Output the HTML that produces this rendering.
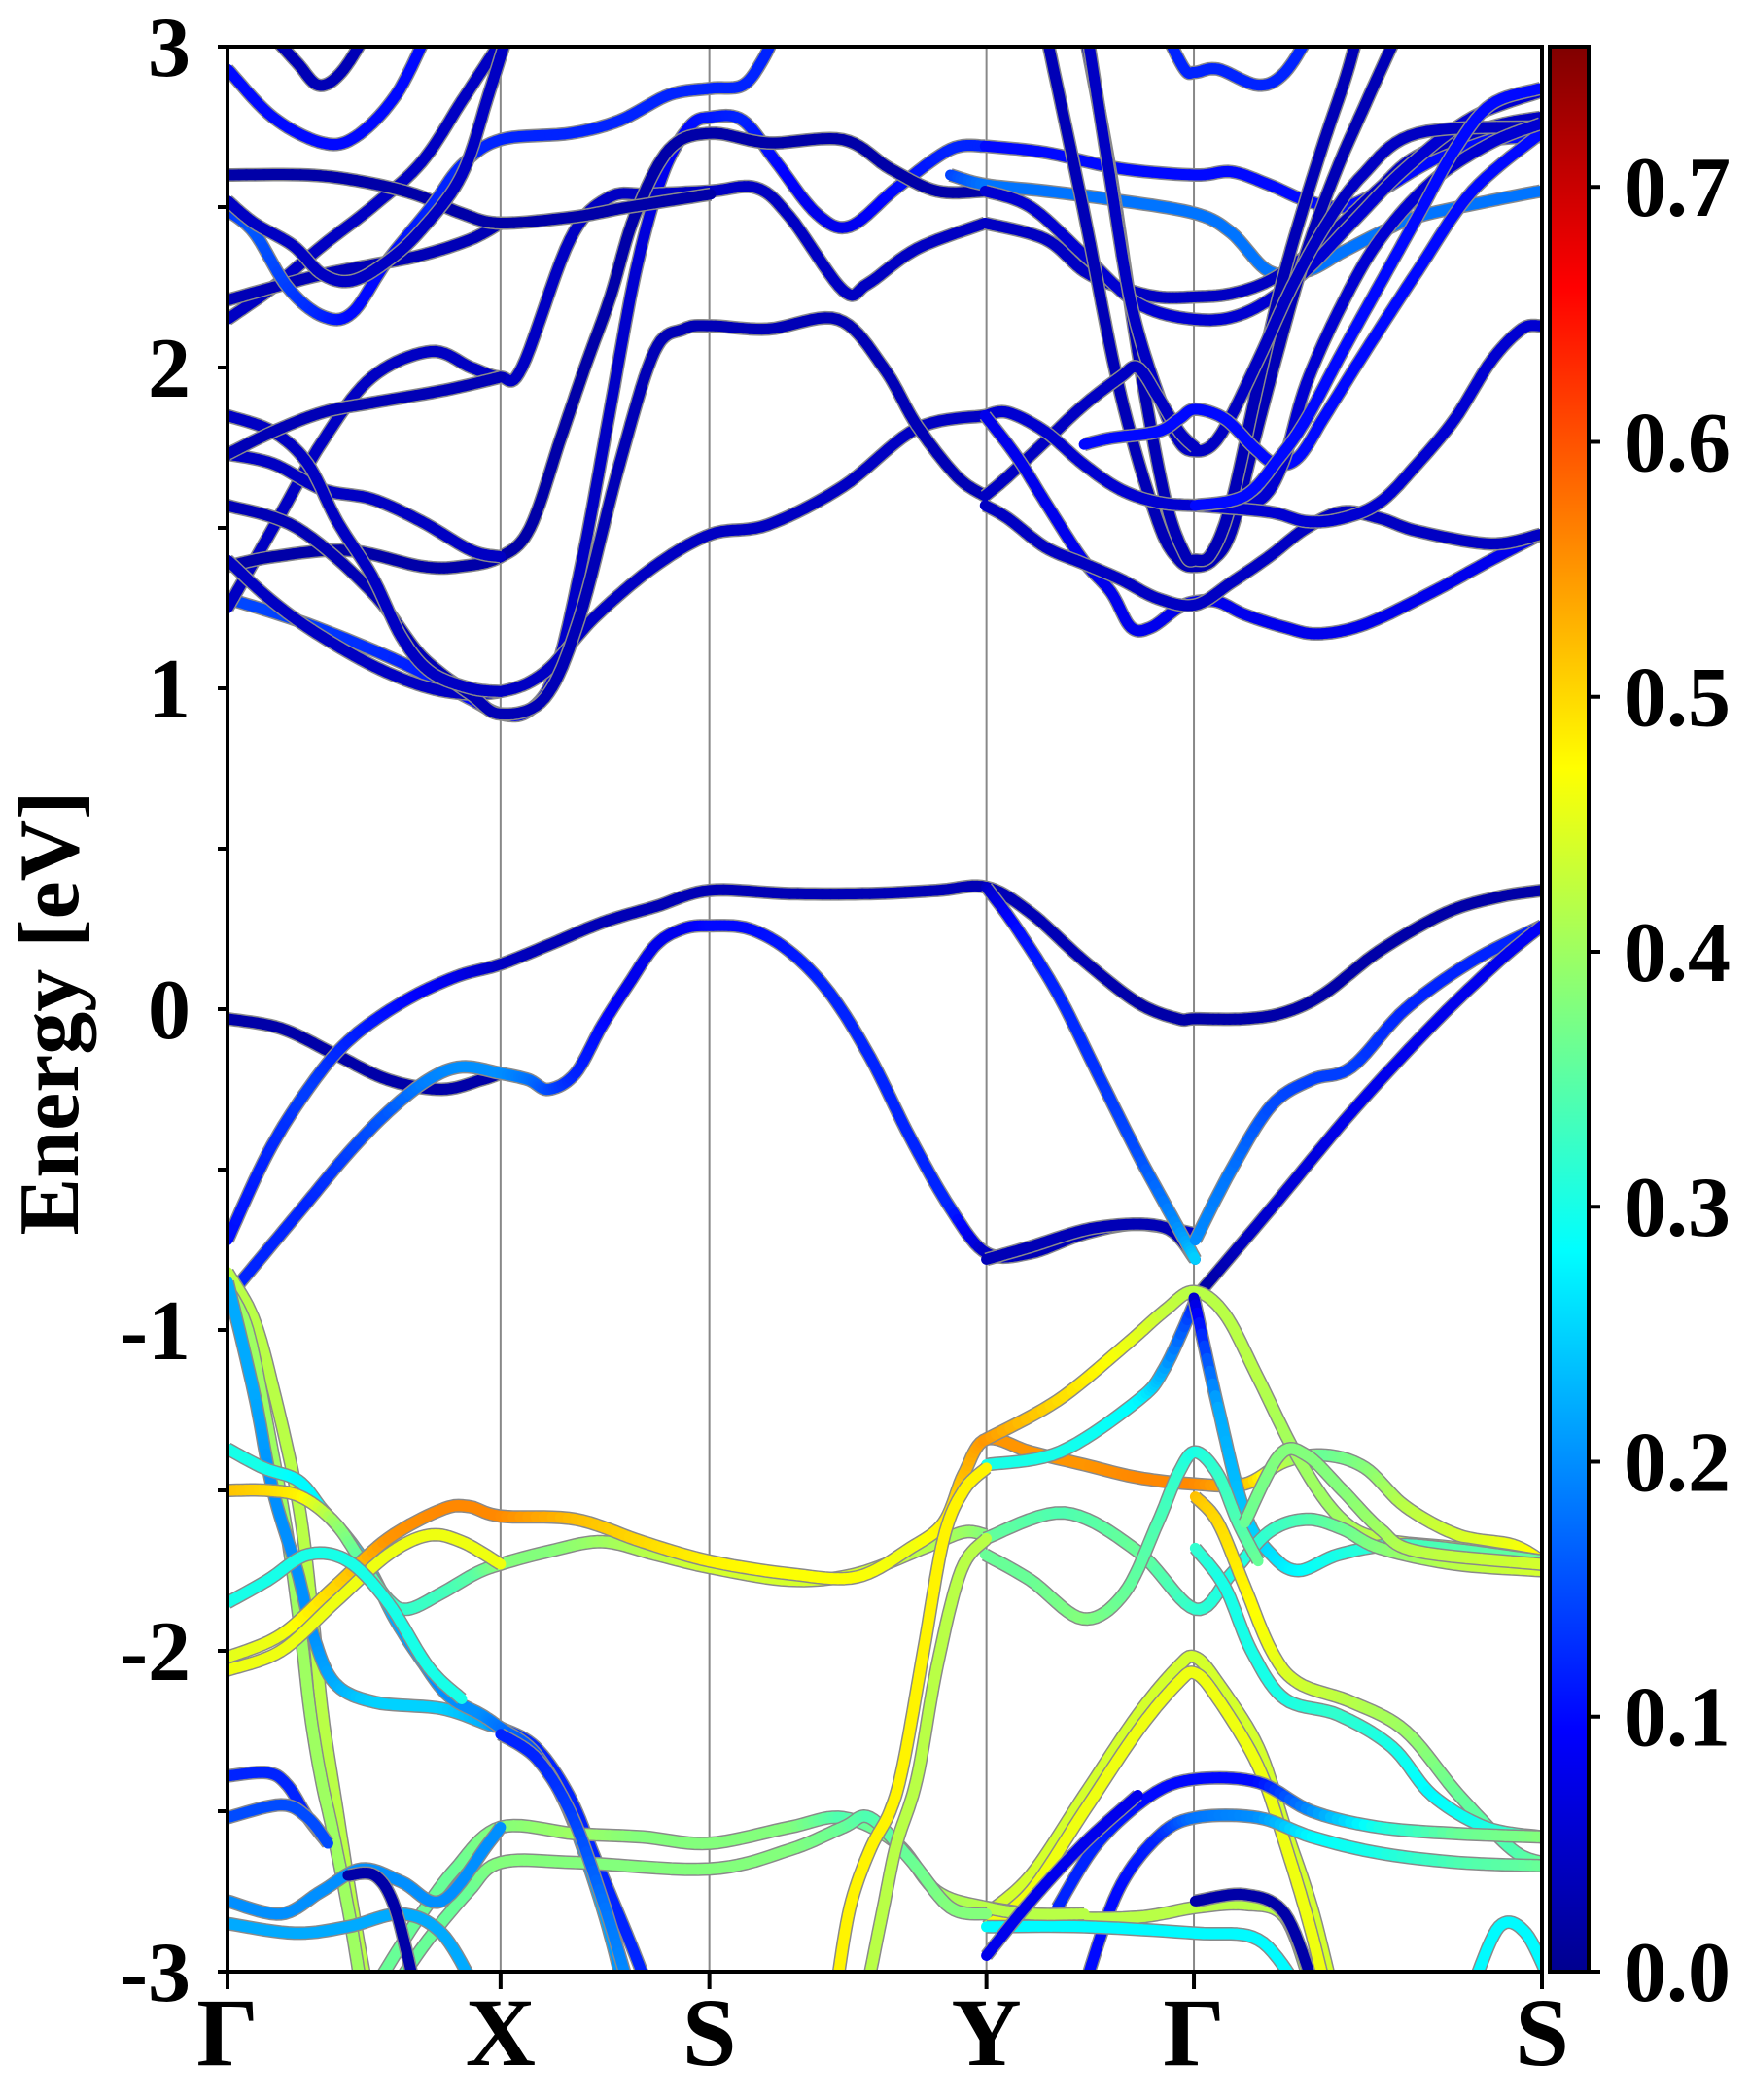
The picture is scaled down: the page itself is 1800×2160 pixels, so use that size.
<!DOCTYPE html>
<html><head><meta charset="utf-8"><style>
html,body{margin:0;padding:0;background:#fff;}
svg{display:block;}
text{font-family:"Liberation Serif","Times New Roman",serif;font-weight:bold;fill:#000;}
</style></head><body>
<svg id="chart" width="1800" height="2160" viewBox="0 0 1800 2160" xmlns="http://www.w3.org/2000/svg" font-family="Liberation Serif, serif">
<defs>
<clipPath id="plotClip"><rect x="234" y="48" width="1352" height="1980"/></clipPath>
<linearGradient id="jetGrad" x1="0" y1="1" x2="0" y2="0">
<stop offset="0" stop-color="#00008f"/><stop offset="0.125" stop-color="#0000ff"/><stop offset="0.375" stop-color="#00ffff"/><stop offset="0.625" stop-color="#ffff00"/><stop offset="0.875" stop-color="#ff0000"/><stop offset="1" stop-color="#800000"/>
</linearGradient>
</defs>
<g id="grid"></g>
<g id="bands" clip-path="url(#plotClip)"></g>
<rect x="234" y="48" width="1352" height="1980" fill="none" stroke="#000" stroke-width="4"/>
<g id="axes"></g>
<text transform="translate(80,1042) rotate(-90)" text-anchor="middle" font-size="88">Energy [eV]</text>
<rect x="1594" y="48" width="40" height="1980" fill="url(#jetGrad)" stroke="#000" stroke-width="4"/>
<g id="cbar"></g>
</svg>
<script>
// ---- data ----
const kNodes = [0, 204, 360, 567, 722, 982];
const kLabels = ["Γ", "X", "S", "Y", "Γ", "S"];
const yTicks = [-3, -2, -1, 0, 1, 2, 3];
const cbarTicks = [0.0, 0.1, 0.2, 0.3, 0.4, 0.5, 0.6, 0.7];
const cMax = 0.755;
// each band: list of [k, E] pairs
const bandData = [
[[0,1.28],[60,1.2],[130,1.08],[180,0.97],[204,0.92],[225,0.93],[245,1.05],[265,1.4],[285,1.85],[305,2.3],[325,2.6],[345,2.75],[361,2.78],[385,2.77],[410,2.64],[440,2.48],[465,2.44],[500,2.56],[540,2.68],[566,2.69]],
[[0,1.25],[34,1.5],[71,1.77],[108,1.97],[152,2.05],[182,2.0],[204,1.97],[220,2.0],[256,2.4],[285,2.53],[315,2.54],[361,2.55],[395,2.56],[420,2.47],[460,2.24],[478,2.26],[515,2.37],[566,2.45]],
[[0,1.38],[34,1.41],[90,1.43],[145,1.38],[175,1.38],[204,1.41],[226,1.5],[249,1.78],[267,2.0],[286,2.22],[304,2.47],[330,2.68],[361,2.73],[404,2.7],[460,2.71],[495,2.62],[530,2.55],[566,2.55]],
[[0,1.4],[34,1.27],[71,1.16],[119,1.05],[163,0.99],[204,0.99],[237,1.05],[274,1.22],[319,1.38],[361,1.48],[404,1.51],[460,1.63],[515,1.81],[566,1.85]],
[[0,1.57],[52,1.5],[108,1.3],[145,1.1],[182,0.98],[204,0.92],[237,0.97],[263,1.22],[293,1.7],[319,2.05],[341,2.12],[361,2.13],[404,2.12],[456,2.15],[490,2.0],[515,1.82],[545,1.66],[566,1.6]],
[[0,1.73],[34,1.7],[71,1.62],[108,1.59],[145,1.52],[182,1.43],[204,1.41]],
[[0,1.85],[34,1.8],[60,1.7],[82,1.52],[108,1.35],[130,1.16],[152,1.05],[182,1.0],[204,0.99]],
[[0,1.73],[34,1.8],[71,1.86],[108,1.89],[163,1.93],[204,1.97]],
[[0,2.15],[34,2.25],[71,2.38],[108,2.5],[145,2.64],[175,2.83],[197,2.97],[210,3.05]],
[[0,2.21],[34,2.25],[71,2.29],[108,2.32],[145,2.35],[182,2.4],[204,2.45]],
[[0,2.6],[60,2.6],[100,2.58],[140,2.54],[175,2.48],[204,2.45],[260,2.47],[300,2.5],[361,2.54]],
[[0,2.49],[20,2.42],[45,2.25],[71,2.16],[93,2.17],[119,2.33],[152,2.5],[175,2.63],[204,2.71],[256,2.73],[293,2.77],[330,2.85],[361,2.87],[385,2.88],[400,2.96],[410,3.05]],
[[0,2.52],[20,2.45],[49,2.38],[71,2.29],[93,2.27],[119,2.33],[145,2.43],[175,2.6],[195,2.85],[210,3.05]],
[[0,2.93],[34,2.78],[71,2.7],[96,2.72],[126,2.85],[150,3.05]],
[[30,3.05],[52,2.95],[68,2.88],[85,2.92],[105,3.05]],
[[566,2.69],[611,2.67],[667,2.62],[723,2.6],[750,2.61],[778,2.57],[806,2.52],[833,2.5],[861,2.55],[889,2.62],[917,2.68],[944,2.71],[981,2.72]],
[[540,2.6],[566,2.57],[611,2.55],[667,2.52],[723,2.48],[750,2.42],[778,2.3],[806,2.3],[833,2.36],[861,2.42],[889,2.47],[944,2.52],[981,2.55]],
[[566,2.45],[611,2.4],[640,2.3],[667,2.25],[695,2.22],[723,2.22],[750,2.23],[778,2.27],[806,2.35],[833,2.45],[861,2.56],[889,2.66],[944,2.75],[981,2.78]],
[[566,2.55],[600,2.5],[640,2.35],[680,2.2],[723,2.15],[760,2.17],[800,2.28],[840,2.45],[880,2.62],[930,2.78],[981,2.86]],
[[611,3.05],[639,2.5],[667,1.92],[695,1.52],[711,1.4],[723,1.38],[736,1.4],[750,1.49],[767,1.77],[786,2.07],[806,2.36],[828,2.61],[850,2.82],[875,3.05]],
[[640,3.05],[660,2.6],[680,2.05],[700,1.6],[715,1.42],[723,1.4],[735,1.42],[750,1.58],[770,1.95],[790,2.3],[815,2.65],[835,2.9],[845,3.05]],
[[642,3.05],[659,2.6],[675,2.2],[695,1.92],[711,1.77],[723,1.74],[736,1.76],[750,1.85],[773,2.05],[795,2.25],[820,2.44],[848,2.6],[889,2.73],[981,2.75]],
[[566,1.6],[583,1.66],[611,1.77],[639,1.88],[667,1.97],[680,2.0],[695,1.91],[711,1.8],[723,1.75]],
[[640,1.76],[660,1.78],[695,1.8],[711,1.84],[723,1.87],[745,1.84],[767,1.75],[783,1.7],[800,1.72],[820,1.85],[850,2.05],[889,2.3],[930,2.55],[981,2.73]],
[[566,1.85],[583,1.86],[611,1.8],[639,1.7],[667,1.62],[695,1.58],[723,1.57],[755,1.57],[775,1.6],[790,1.72],[806,1.95],[833,2.2],[861,2.4],[900,2.58],[944,2.7],[981,2.76]],
[[566,1.85],[590,1.72],[611,1.58],[639,1.4],[660,1.3],[675,1.19],[690,1.19],[710,1.25],[723,1.27],[740,1.27],[760,1.23],[790,1.19],[815,1.17],[850,1.2],[900,1.3],[944,1.4],[981,1.48]],
[[566,1.57],[583,1.53],[611,1.44],[639,1.39],[667,1.34],[695,1.28],[723,1.26],[750,1.33],[778,1.41],[806,1.5],[833,1.55],[861,1.53],[889,1.49],[944,1.45],[981,1.48]],
[[723,1.57],[778,1.55],[806,1.52],[833,1.53],[861,1.58],[889,1.7],[917,1.84],[944,2.02],[967,2.12],[981,2.13]],
[[723,1.57],[760,1.6],[786,1.72],[806,1.84],[833,2.05],[861,2.26],[889,2.47],[917,2.68],[944,2.82],[981,2.87]],
[[700,3.05],[715,2.93],[723,2.92],[740,2.93],[770,2.88],[790,2.92],[810,3.05]],
[[0,-0.03],[40,-0.06],[80,-0.14],[120,-0.22],[160,-0.25],[190,-0.22],[204,-0.2]],
[[0,-0.9],[30,-0.75],[60,-0.6],[90,-0.45],[120,-0.32],[150,-0.22],[175,-0.18],[204,-0.2],[225,-0.22],[240,-0.25],[260,-0.2],[280,-0.05],[300,0.08],[320,0.2],[340,0.25],[360,0.26],[390,0.25],[420,0.18],[450,0.05],[480,-0.15],[510,-0.4],[540,-0.62],[567,-0.76],[600,-0.76],[640,-0.7],[680,-0.67],[723,-0.7]],
[[0,-0.72],[30,-0.45],[60,-0.25],[90,-0.1],[130,0.02],[170,0.1],[204,0.14],[240,0.2],[280,0.27],[320,0.32],[360,0.37],[420,0.36],[480,0.36],[530,0.37],[567,0.38],[600,0.3],[640,0.15],[680,0.02],[710,-0.03],[723,-0.03],[760,-0.03],[790,-0.01],[820,0.05],[860,0.18],[910,0.3],[950,0.35],[982,0.37]],
[[567,-0.78],[600,-0.74],[650,-0.68],[700,-0.68],[723,-0.78]],
[[567,0.38],[590,0.25],[620,0.05],[650,-0.2],[680,-0.45],[710,-0.68],[723,-0.78]],
[[723,-0.72],[750,-0.5],[780,-0.3],[810,-0.22],[840,-0.18],[880,0.0],[930,0.15],[982,0.26]],
[[723,-0.9],[780,-0.62],[840,-0.32],[900,-0.05],[950,0.15],[982,0.26]],
[[0,-0.82],[19,-0.96],[34,-1.18],[53,-1.54],[64,-1.91],[71,-2.2],[82,-2.5],[93,-2.79],[104,-3.05]],
[[0,-0.87],[15,-1.0],[30,-1.3],[45,-1.65],[55,-1.95],[62,-2.2],[70,-2.4],[78,-2.55],[90,-2.8],[100,-3.05]],
[[0,-0.85],[20,-1.2],[34,-1.5],[52,-1.75],[64,-1.95],[80,-2.1],[110,-2.16],[160,-2.18],[195,-2.23],[204,-2.24],[230,-2.3],[255,-2.45],[275,-2.65],[300,-2.9],[314,-3.05]],
[[0,-1.37],[27,-1.43],[53,-1.47],[71,-1.56],[90,-1.65],[108,-1.76],[125,-1.9],[145,-2.03],[165,-2.14],[190,-2.2],[204,-2.24],[230,-2.32],[255,-2.5],[280,-2.8],[296,-3.05]],
[[0,-1.5],[30,-1.5],[55,-1.52],[80,-1.6],[100,-1.72],[120,-1.84],[135,-1.87],[160,-1.82],[185,-1.76],[204,-1.73],[240,-1.69],[280,-1.66],[320,-1.7],[360,-1.74],[420,-1.78],[470,-1.76],[520,-1.68],[550,-1.63],[567,-1.64]],
[[0,-2.02],[40,-1.95],[80,-1.8],[120,-1.65],[160,-1.56],[180,-1.55],[204,-1.58],[260,-1.59],[310,-1.66],[360,-1.72],[420,-1.76],[470,-1.77],[510,-1.68],[535,-1.6],[550,-1.45],[567,-1.34],[600,-1.38],[640,-1.42],[680,-1.46],[722,-1.48],[760,-1.48],[790,-1.41],[820,-1.39],[850,-1.43],[880,-1.55],[920,-1.64],[960,-1.67],[982,-1.72]],
[[0,-2.06],[40,-2.0],[80,-1.85],[120,-1.7],[150,-1.64],[175,-1.66],[204,-1.73]],
[[0,-1.85],[30,-1.78],[60,-1.7],[90,-1.72],[120,-1.85],[150,-2.05],[175,-2.15]],
[[567,-1.34],[620,-1.22],[670,-1.05],[700,-0.94],[722,-0.88],[745,-0.95],[770,-1.15],[800,-1.4],[830,-1.58],[860,-1.65],[920,-1.68],[982,-1.72]],
[[567,-1.42],[622,-1.38],[680,-1.22],[700,-1.12],[722,-0.92]],
[[722,-0.9],[740,-1.24],[760,-1.57],[780,-1.7],[800,-1.75],[830,-1.7],[870,-1.67],[910,-1.68],[982,-1.72]],
[[566,-1.65],[625,-1.57],[680,-1.69],[723,-1.87],[750,-1.76],[778,-1.63],[806,-1.59],[833,-1.62],[861,-1.68],[917,-1.73],[981,-1.75]],
[[566,-1.7],[600,-1.78],[639,-1.9],[670,-1.82],[695,-1.6],[710,-1.45],[723,-1.38],[740,-1.45],[755,-1.6],[770,-1.72]],
[[723,-1.52],[740,-1.6],[760,-1.8],[780,-2.0],[800,-2.1],[840,-2.16],[880,-2.25],[920,-2.45],[960,-2.62],[982,-2.66]],
[[760,-1.6],[786,-1.39],[806,-1.39],[833,-1.5],[861,-1.62],[889,-1.69],[981,-1.73]],
[[723,-1.68],[745,-1.8],[765,-2.0],[790,-2.15],[830,-2.2],[870,-2.3],[900,-2.45],[940,-2.55],[982,-2.58]],
[[567,-2.82],[600,-2.7],[640,-2.45],[680,-2.2],[710,-2.05],[723,-2.02],[740,-2.1],[770,-2.3],[790,-2.55],[810,-2.8],[825,-3.05]],
[[567,-2.86],[600,-2.75],[640,-2.5],[680,-2.25],[710,-2.1],[723,-2.07],[740,-2.15],[770,-2.36],[790,-2.6],[808,-2.85],[820,-3.05]],
[[620,-2.8],[650,-2.6],[690,-2.45],[723,-2.4],[770,-2.41],[810,-2.5],[860,-2.55],[920,-2.57],[982,-2.58]],
[[640,-3.05],[665,-2.75],[695,-2.58],[723,-2.52],[770,-2.52],[810,-2.58],[860,-2.63],[920,-2.66],[982,-2.67]],
[[567,-2.8],[620,-2.83],[680,-2.83],[723,-2.8],[760,-2.79],[790,-2.83],[810,-3.05]],
[[567,-2.86],[640,-2.86],[723,-2.88],[770,-2.9],[800,-3.05]],
[[110,-3.05],[140,-2.85],[170,-2.68],[204,-2.55],[260,-2.57],[310,-2.58],[360,-2.6],[420,-2.55],[460,-2.52],[500,-2.6],[530,-2.75],[567,-2.8],[600,-2.82],[640,-2.82]],
[[125,-3.05],[150,-2.9],[180,-2.75],[204,-2.66],[260,-2.66],[360,-2.68],[420,-2.62],[460,-2.55],[480,-2.52],[510,-2.65],[540,-2.8],[567,-2.82]],
[[567,-1.43],[550,-1.5],[535,-1.65],[520,-2.0],[505,-2.35],[495,-2.5],[480,-2.62],[465,-2.8],[455,-3.05]],
[[567,-1.65],[548,-1.75],[530,-2.05],[515,-2.4],[500,-2.6],[490,-2.8],[478,-3.05]],
[[204,-2.26],[232,-2.34],[258,-2.52],[282,-2.8],[300,-3.05]],
[[0,-2.39],[30,-2.38],[45,-2.42],[60,-2.52],[75,-2.6]],
[[0,-2.52],[40,-2.48],[60,-2.52],[75,-2.6]],
[[0,-2.78],[40,-2.82],[70,-2.75],[100,-2.68],[130,-2.72],[160,-2.78],[195,-2.6],[204,-2.55]],
[[0,-2.85],[50,-2.88],[90,-2.86],[130,-2.82],[160,-2.88],[185,-3.05]],
[[90,-2.7],[110,-2.7],[125,-2.8],[140,-3.05]],
[[567,-2.95],[600,-2.78],[640,-2.6],[680,-2.45]],
[[723,-2.78],[760,-2.76],[790,-2.82],[812,-3.05]],
[[930,-3.05],[950,-2.86],[970,-2.88],[990,-3.05]]
];
// weight values per band (single value or one per point)
const bandW = [
[0.15,0.14,0.12,0.1,0.1,0.08,0.06,0.05,0.05,0.06,0.08,0.1,0.11,0.12,0.1,0.08,0.08,0.1,0.12,0.12],
[0.05],[0.03],[0.05],[0.04],[0.05],[0.05],[0.04],[0.05],[0.04],[0.03],
[0.12,0.16,0.14,0.12,0.1,0.1,0.12,0.12,0.12,0.12,0.12,0.12,0.12,0.12,0.12,0.12],
[0.05],[0.1],[0.04],
[0.1],[0.14,0.18],[0.05],[0.06],[0.04],[0.04],[0.05],[0.05],[0.1],[0.06],[0.08],[0.05],[0.06],[0.1],[0.12],
[0.03],
[0.12,0.12,0.12,0.14,0.16,0.19,0.2,0.2,0.18,0.15,0.12,0.1,0.08,0.08,0.08,0.1,0.1,0.11,0.12,0.12,0.12,0.12,0.05,0.04,0.04,0.04,0.06],
[0.1,0.12,0.14,0.12,0.1,0.08,0.05,0.04,0.04,0.04,0.04,0.04,0.04,0.04,0.04,0.04,0.04,0.03,0.03,0.03,0.03,0.03,0.03,0.03,0.03,0.03,0.03],
[0.04],
[0.05,0.1,0.12,0.13,0.15,0.2,0.25],
[0.2,0.18,0.15,0.14,0.14,0.12,0.12,0.12],
[0.02,0.06,0.08,0.08,0.08,0.09],
[0.42],[0.4],
[0.22,0.22,0.2,0.2,0.2,0.22,0.25,0.25,0.22,0.15,0.12,0.12,0.12,0.12,0.12],
[0.3,0.3,0.28,0.28,0.26,0.25,0.22,0.2,0.2,0.2,0.18,0.15,0.2,0.22,0.2],
[0.52,0.5,0.48,0.4,0.35,0.33,0.32,0.33,0.35,0.38,0.38,0.4,0.42,0.44,0.44,0.44,0.42,0.4,0.38],
[0.45,0.46,0.5,0.55,0.56,0.56,0.56,0.52,0.5,0.48,0.47,0.47,0.46,0.48,0.52,0.55,0.55,0.55,0.56,0.56,0.52,0.42,0.36,0.38,0.42,0.44,0.46,0.48],
[0.46],[0.3],
[0.55,0.5,0.46,0.43,0.42,0.42,0.42,0.4,0.4,0.42,0.44,0.46],
[0.3,0.3,0.28,0.22,0.12],
[0.05,0.22,0.24,0.26,0.28,0.3,0.32,0.34,0.36],
[0.36,0.34,0.36,0.32,0.3,0.32,0.34,0.36,0.38,0.42,0.44],
[0.36,0.36,0.38,0.36,0.34,0.32,0.3,0.32,0.34,0.36],
[0.52,0.5,0.48,0.46,0.44,0.42,0.4,0.36,0.34,0.36],
[0.36,0.38,0.38,0.38,0.4,0.42,0.44],
[0.32,0.3,0.3,0.3,0.32,0.3,0.28,0.3,0.36],
[0.44],[0.46],
[0.12,0.12,0.1,0.1,0.1,0.2,0.3,0.36,0.38],
[0.1,0.1,0.12,0.18,0.2,0.28,0.3,0.34,0.36],
[0.42],[0.28],
[0.36,0.36,0.36,0.38,0.4,0.38,0.38,0.38,0.34,0.38,0.4,0.42,0.42,0.42],
[0.36,0.36,0.36,0.38,0.38,0.38,0.38,0.36,0.34,0.36,0.38,0.38],
[0.48],[0.42],
[0.12,0.12,0.14,0.18,0.2],
[0.12],[0.15],[0.2],[0.22],[0.03],[0.08],[0.03],[0.28]
];

// ---- scales ----
const X0 = 234, X1 = 1586, Y0 = 48, Y1 = 2028;
const kMax = kNodes[kNodes.length - 1];
function xs(k) { return X0 + (k / kMax) * (X1 - X0); }
function ys(e) { return Y0 + (3 - e) / 6 * (Y1 - Y0); }
function clamp(v) { return Math.max(0, Math.min(1, v)); }
function jet(w) {
  const t = clamp(w / cMax);
  const r = clamp(1.5 - Math.abs(4 * t - 3)), g = clamp(1.5 - Math.abs(4 * t - 2)), b = clamp(1.5 - Math.abs(4 * t - 1));
  return 'rgb(' + Math.round(r * 255) + ',' + Math.round(g * 255) + ',' + Math.round(b * 255) + ')';
}
const NS = 'http://www.w3.org/2000/svg';
function mk(tag, attrs, parent) {
  const el = document.createElementNS(NS, tag);
  for (const a in attrs) el.setAttribute(a, attrs[a]);
  parent.appendChild(el);
  return el;
}

const grid = document.getElementById('grid');
const axes = document.getElementById('axes');
kNodes.forEach((k, i) => {
  const x = xs(k);
  if (i > 0 && i < kNodes.length - 1) {
    const l = mk('line', {x1: x, x2: x, y1: Y0, y2: Y1, stroke: '#888', 'stroke-width': 2}, grid);
    
    
  }
  const t = mk('line', {x1: x, x2: x, y1: Y1, y2: Y1 + 18, stroke: '#000', 'stroke-width': 4}, axes);
  
  
  const lab = mk('text', {x: x, y: 2124, 'text-anchor': 'middle', 'font-size': 100}, axes);
  lab.textContent = kLabels[i];
  
  
});
for (let e = -3; e <= 3.001; e += 0.5) {
  const y = ys(e);
  const t = mk('line', {x1: X0 - 10, x2: X0, y1: y, y2: y, stroke: '#000', 'stroke-width': 4}, axes);
  
  
}
yTicks.forEach(v => {
  const lab = mk('text', {x: 196, y: ys(v) + 30, 'text-anchor': 'end', 'font-size': 88}, axes);
  lab.textContent = String(v);
  
  
});
const cbar = document.getElementById('cbar');
cbarTicks.forEach(v => {
  const y = Y1 - (v / cMax) * (Y1 - Y0);
  const t = mk('line', {x1: 1634, x2: 1646, y1: y, y2: y, stroke: '#000', 'stroke-width': 4}, cbar);
  
  
  const lab = mk('text', {x: 1670, y: y + 30, 'font-size': 88}, cbar);
  lab.textContent = v.toFixed(1);
  
  
});

const gB = document.getElementById('bands');
function crSample(pts, ws) {
  const out = [];
  const n = pts.length;
  for (let i = 0; i < n - 1; i++) {
    const p0 = pts[Math.max(0, i - 1)], p1 = pts[i], p2 = pts[i + 1], p3 = pts[Math.min(n - 1, i + 2)];
    const w1 = ws.length > 1 ? ws[Math.min(i, ws.length - 1)] : ws[0];
    const w2 = ws.length > 1 ? ws[Math.min(i + 1, ws.length - 1)] : ws[0];
    const steps = 10;
    for (let s = 0; s < steps; s++) {
      const t = s / steps, t2 = t * t, t3 = t2 * t;
      const f = (a, b, c, d) => 0.5 * ((2 * b) + (-a + c) * t + (2 * a - 5 * b + 4 * c - d) * t2 + (-a + 3 * b - 3 * c + d) * t3);
      out.push([f(p0[0], p1[0], p2[0], p3[0]), f(p0[1], p1[1], p2[1], p3[1]), w1 + (w2 - w1) * t]);
    }
  }
  const last = pts[n - 1];
  out.push([last[0], last[1], ws.length > 1 ? ws[Math.min(n - 1, ws.length - 1)] : ws[0]]);
  return out;
}
bandData.forEach((pts, bi) => {
  const ws = bandW[bi] || [0.05];
  const s = crSample(pts, ws);
  const g = mk('g', {}, gB);
  
  
  const d = s.map((p, i) => (i ? 'L' : 'M') + xs(p[0]).toFixed(1) + ' ' + ys(p[1]).toFixed(1)).join(' ');
  mk('path', {d: d, fill: 'none', stroke: '#8a8a8a', 'stroke-width': 14, 'stroke-linejoin': 'round'}, g);
  for (let i = 0; i < s.length - 1; i++) {
    mk('line', {x1: xs(s[i][0]).toFixed(1), y1: ys(s[i][1]).toFixed(1), x2: xs(s[i + 1][0]).toFixed(1), y2: ys(s[i + 1][1]).toFixed(1),
      stroke: jet((s[i][2] + s[i + 1][2]) / 2), 'stroke-width': 11, 'stroke-linecap': 'round'}, g);
  }
});
</script>
</body></html>
